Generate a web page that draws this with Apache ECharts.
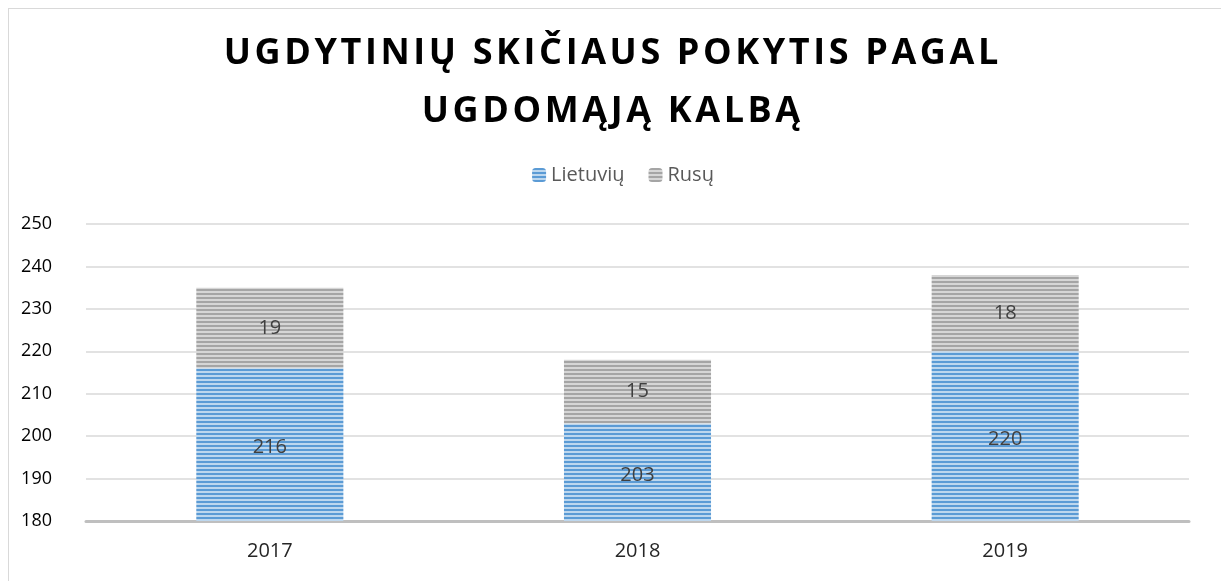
<!DOCTYPE html>
<html>
<head>
<meta charset="utf-8">
<script src="https://cdn.jsdelivr.net/npm/echarts@6/dist/echarts.min.js"></script>
<style>
  html, body { margin: 0; padding: 0; background: #fff; }
  #chart { position: absolute; left: 8px; top: 8px; width: 1230px; height: 590px;
           border: 1px solid #d9d9d9; box-sizing: border-box; }
</style>
</head>
<body>
<div id="chart"></div>
<script>
const years = ["2017", "2018", "2019"];
const lietuviu = [216, 203, 220];
const rusu = [19, 15, 18];
const titleLines = ["UGDYTINIŲ SKIČIAUS POKYTIS PAGAL", "UGDOMĄJĄ KALBĄ"];

// spaced-out title, the letterSpacing option is not drawn for titles
const spaced = titleLines.map(s => s.split("").join("\u200A")).join("\n");

function stripes(dark, light) {
  const c = document.createElement("canvas");
  c.width = 4; c.height = 4;
  const ctx = c.getContext("2d");
  ctx.fillStyle = light; ctx.fillRect(0, 0, 4, 4);
  ctx.fillStyle = dark; ctx.fillRect(0, 0, 4, 2);
  return { image: c, repeat: "repeat" };
}

const chart = echarts.init(document.getElementById("chart"));
chart.setOption({
  animation: false,
  title: {
    text: spaced,
    left: 597, top: 11, textAlign: "center",
    textStyle: { fontFamily: "Open Sans", fontWeight: "bold", fontSize: 36,
                 lineHeight: 58, color: "#000" }
  },
  legend: {
    top: 151, left: "center", itemWidth: 14, itemHeight: 14, itemGap: 24,
    textStyle: { fontFamily: "Open Sans", fontSize: 20, color: "#595959" },
    data: ["Lietuvių", "Rusų"]
  },
  grid: { left: 77, right: 48, top: 215, bottom: 76 },
  xAxis: {
    type: "category", data: years,
    axisTick: { show: false },
    axisLine: { lineStyle: { color: "#bfbfbf", width: 3 } },
    axisLabel: { fontFamily: "Open Sans", fontSize: 20, color: "#262626", margin: 20 }
  },
  yAxis: {
    type: "value", min: 180, max: 250, interval: 10,
    axisLine: { show: false }, axisTick: { show: false },
    splitLine: { lineStyle: { color: "#d9d9d9", width: 1.5 } },
    axisLabel: { fontFamily: "Open Sans", fontSize: 18, color: "#000", margin: 34 }
  },
  series: [
    {
      name: "Lietuvių", type: "bar", stack: "a", barWidth: "40%",
      data: lietuviu,
      itemStyle: { color: stripes("#5b9bd5", "#bdd7ee") },
      label: { show: true, position: "inside", fontFamily: "Open Sans",
               fontSize: 20, color: "#404040", offset: [0, 3] }
    },
    {
      name: "Rusų", type: "bar", stack: "a", barWidth: "40%",
      data: rusu,
      itemStyle: { color: stripes("#a5a5a5", "#d6d6d6") },
      label: { show: true, position: "inside", fontFamily: "Open Sans",
               fontSize: 20, color: "#404040" }
    }
  ]
});
</script>
</body>
</html>
